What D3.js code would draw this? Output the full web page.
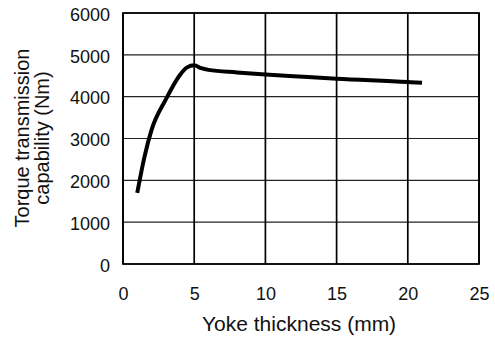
<!DOCTYPE html>
<html>
<head>
<meta charset="utf-8">
<script src="https://cdn.jsdelivr.net/npm/d3@7"></script>
<style>
  body { margin: 0; background: #fff; }
  text { font-family: "Liberation Sans", Arial, sans-serif; fill: #111; }
</style>
</head>
<body>
<svg id="chart" width="495" height="338"></svg>
<script>
// data
const thickness = [1, 1.5, 2, 3, 4, 4.5, 5, 5.5, 6, 8, 10, 12, 15, 20, 21];
const torque = [1700, 2550, 3200, 3930, 4520, 4700, 4750, 4680, 4640, 4580, 4530, 4490, 4430, 4350, 4330];
const xTicks = [0, 5, 10, 15, 20, 25];
const yTicks = [0, 1000, 2000, 3000, 4000, 5000, 6000];

const margin = { left: 123, right: 16, top: 13, bottom: 74 };
const width = 495, height = 338;

const svg = d3.select("#chart");

const x = d3.scaleLinear().domain([0, 25]).range([margin.left, width - margin.right]);
const y = d3.scaleLinear().domain([0, 6000]).range([height - margin.bottom, margin.top]);

// horizontal grid (thin)
svg.append("g")
  .selectAll("line")
  .data(yTicks)
  .join("line")
    .attr("x1", x(0)).attr("x2", x(25))
    .attr("y1", d => y(d)).attr("y2", d => y(d))
    .attr("stroke", "#222")
    .attr("stroke-width", 1.1);

// vertical grid (heavier)
svg.append("g")
  .selectAll("line")
  .data(xTicks)
  .join("line")
    .attr("x1", d => x(d)).attr("x2", d => x(d))
    .attr("y1", y(0)).attr("y2", y(6000))
    .attr("stroke", "#000")
    .attr("stroke-width", 1.7);

// frame
svg.append("rect")
  .attr("x", x(0)).attr("y", y(6000))
  .attr("width", x(25) - x(0)).attr("height", y(0) - y(6000))
  .attr("fill", "none")
  .attr("stroke", "#000")
  .attr("stroke-width", 1.7);

// tick labels via d3 axes, lines hidden
const xAxis = svg.append("g")
  .attr("transform", `translate(0,${y(0)})`)
  .call(d3.axisBottom(x).tickValues(xTicks).tickFormat(d3.format("d")).tickSize(0).tickPadding(23));
xAxis.select(".domain").remove();
xAxis.selectAll("text")
  .style("font-family", "'Liberation Sans', Arial, sans-serif")
  .style("font-size", "18px")
  .attr("fill", "#111");

const yAxis = svg.append("g")
  .attr("transform", `translate(${x(0)},0)`)
  .call(d3.axisLeft(y).tickValues(yTicks).tickFormat(d3.format("d")).tickSize(0).tickPadding(13));
yAxis.select(".domain").remove();
yAxis.selectAll("text")
  .style("font-family", "'Liberation Sans', Arial, sans-serif")
  .style("font-size", "18px")
  .attr("dy", "0.4em")
  .attr("fill", "#111");

// the curve
const line = d3.line()
  .x((d, i) => x(thickness[i]))
  .y(d => y(d))
  .curve(d3.curveMonotoneX);

svg.append("path")
  .attr("d", line(torque))
  .attr("fill", "none")
  .attr("stroke", "#000")
  .attr("stroke-width", 4)
  .attr("stroke-linejoin", "round");

// axis titles
svg.append("text")
  .attr("x", 202)
  .attr("y", 331)
  .style("font-size", "21px")
  .text("Yoke thickness (mm)");

const yTitle = svg.append("text")
  .attr("transform", `translate(29,138) rotate(-90)`)
  .attr("text-anchor", "middle")
  .style("font-size", "20px");
yTitle.append("tspan").attr("x", 0).attr("dy", 0).text("Torque transmission");
yTitle.append("tspan").attr("x", 0).attr("dy", 20).text("capability (Nm)");
</script>
</body>
</html>
